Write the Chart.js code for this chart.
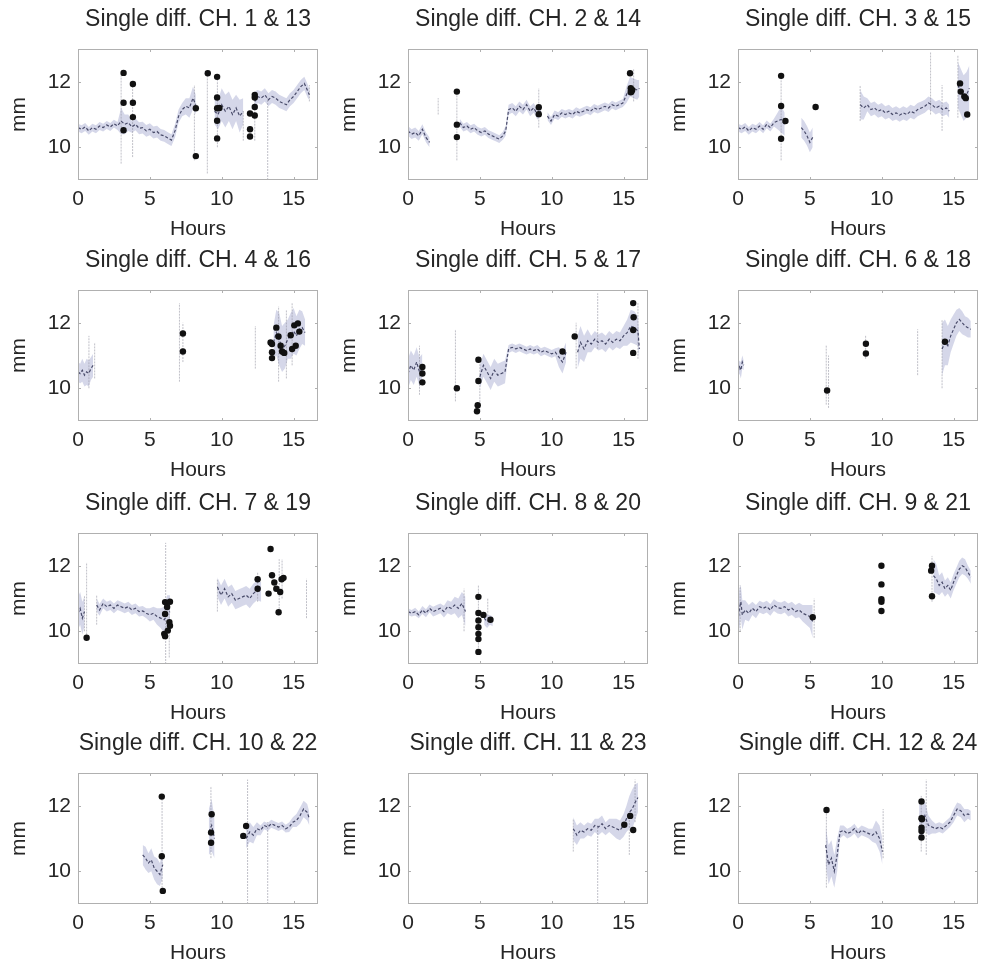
<!DOCTYPE html>
<html>
<head>
<meta charset="utf-8">
<script src="https://cdn.jsdelivr.net/npm/chart.js@4/dist/chart.umd.min.js"></script>
<style>
  body { margin: 0; background: #fff; }
  #wrap { position: relative; width: 985px; height: 968px; overflow: hidden; }
  #wrap canvas { position: absolute; }
</style>
</head>
<body>
<div id="wrap"></div>
<script>
// tick labels
const hourTicks = [0, 5, 10, 15]
const mmTicks = [10, 12]
const channels = ["1 & 13", "2 & 14", "3 & 15", "4 & 16", "5 & 17", "6 & 18",
  "7 & 19", "8 & 20", "9 & 21", "10 & 22", "11 & 23", "12 & 24"]

// CH 1 & 13
const hours1 = [0,0.25,0.5,0.75,1,1.25,1.5,1.75,2,2.25,2.5,2.75,3,3.25,3.5,3.75,4,4.25,4.5,4.75,5,5.25,5.5,5.75,6,6.25,6.5,6.75,7,7.25,7.5,7.75,8,8.2,8.8,9.5,9.75,10,10.25,10.5,10.75,11,11.25,11.5,11.9,12.3,12.5,12.75,13,13.25,13.5,13.75,14,14.25,14.5,14.75,15,15.25,15.5,15.75,16,16.1]
const mean1 = [10.6,10.55,10.62,10.5,10.6,10.55,10.65,10.6,10.68,10.62,10.72,10.65,10.8,10.7,10.75,10.62,10.7,10.58,10.6,10.5,10.55,10.45,10.48,10.38,10.35,10.28,10.22,10.5,10.95,11.15,11.25,11.2,11.5,11.3,null,11.1,11.0,11.3,11.1,11.25,11.0,11.2,10.95,11.1,null,11.4,11.55,11.5,11.6,11.45,11.55,11.5,11.4,11.35,11.3,11.45,11.55,11.7,11.85,11.95,11.7,11.6]
const spread1 = [0.12,0.12,0.12,0.12,0.12,0.12,0.12,0.12,0.12,0.12,0.12,0.12,0.4,0.3,0.25,0.18,0.18,0.18,0.18,0.18,0.18,0.18,0.18,0.18,0.18,0.18,0.18,0.2,0.2,0.2,0.25,0.3,0.35,0.3,null,0.4,0.45,0.5,0.5,0.45,0.45,0.4,0.5,0.4,null,0.3,0.2,0.2,0.2,0.2,0.2,0.2,0.2,0.2,0.2,0.2,0.2,0.2,0.2,0.2,0.2,0.15]
const spikeX1 = [3.0,3.8,8.1,9.0,9.7,11.5,12.3,13.2,16.1]
const spikeLo1 = [9.5,9.7,9.6,9.2,10.0,10.2,10.2,9.0,11.4]
const spikeHi1 = [12.2,11.9,11.9,12.2,12.1,11.1,11.6,11.5,11.9]
const dotX1 = [3.17,3.17,3.17,3.82,3.82,3.82,8.2,8.2,9.03,9.68,9.68,9.68,9.68,9.68,9.84,11.97,11.97,11.97,12.3,12.3,12.3,12.3]
const dotY1 = [12.27,11.36,10.52,11.93,11.36,10.92,11.19,9.73,12.26,12.15,11.52,11.19,10.81,10.27,11.2,11.03,10.55,10.33,11.6,11.52,11.23,10.97]

// CH 2 & 14
const hours2 = [0,0.25,0.5,0.75,1,1.25,1.5,2.5,3.6,3.85,4.1,4.35,4.6,4.85,5.1,5.35,5.6,5.85,6.1,6.35,6.6,6.8,7,7.25,7.5,7.75,8,8.25,8.5,8.75,9,9.25,9.45,9.7,9.95,10.2,10.45,10.7,10.95,11.2,11.45,11.7,11.95,12.2,12.45,12.7,12.95,13.2,13.45,13.7,13.95,14.2,14.45,14.7,14.95,15.2,15.45,15.7,15.95,16.1]
const mean2 = [10.5,10.4,10.45,10.35,10.55,10.3,10.15,null,10.75,10.6,10.65,10.55,10.6,10.5,10.45,10.5,10.4,10.35,10.3,10.25,10.35,10.5,11.15,11.2,11.1,11.25,11.15,11.3,11.1,11.2,11.0,11.1,null,10.95,10.8,11.0,10.95,11.05,11.0,11.05,11.0,11.1,11.05,11.1,11.15,11.1,11.2,11.15,11.2,11.25,11.2,11.3,11.25,11.3,11.35,11.6,11.85,11.8,11.75,11.8]
const spread2 = [0.15,0.15,0.15,0.15,0.15,0.15,0.15,null,0.12,0.12,0.12,0.12,0.12,0.12,0.12,0.12,0.12,0.12,0.12,0.12,0.12,0.15,0.15,0.15,0.15,0.15,0.15,0.15,0.15,0.15,0.15,0.15,null,0.12,0.12,0.12,0.12,0.12,0.12,0.12,0.12,0.12,0.12,0.12,0.12,0.12,0.12,0.12,0.12,0.12,0.12,0.12,0.12,0.12,0.12,0.25,0.3,0.3,0.3,0.25]
const spikeX2 = [2.1,3.4,9.1,15.7]
const spikeLo2 = [11.0,9.6,10.6,11.4]
const spikeHi2 = [11.5,11.7,11.8,12.4]
const dotX2 = [3.4,3.4,3.4,9.1,9.1,15.45,15.5,15.55,15.6,15.5]
const dotY2 = [11.7,10.69,10.31,11.22,11.01,12.26,11.8,11.7,11.75,11.68]

// CH 3 & 15
const hours3 = [0,0.25,0.5,0.75,1,1.25,1.5,1.75,2,2.25,2.5,2.75,3,3.25,3.8,4.4,4.6,4.8,5,5.2,6.8,8.5,8.75,9,9.25,9.5,9.75,10,10.25,10.5,10.75,11,11.25,11.5,11.75,12,12.25,12.5,12.75,13,13.25,13.5,13.75,14,14.25,14.5,14.7,15,15.3,15.5,15.7,15.9,16.1]
const mean3 = [10.6,10.55,10.62,10.5,10.6,10.55,10.65,10.55,10.7,10.6,10.75,10.8,10.85,10.7,null,10.6,10.5,10.35,10.15,10.3,null,11.3,11.2,11.3,11.15,11.2,11.1,11.15,11.05,11.1,11.0,11.05,10.98,11.05,11.0,11.1,11.05,11.15,11.2,11.25,11.35,11.3,11.2,11.25,11.15,11.2,11.1,null,11.9,11.7,11.5,11.6,11.8]
const spread3 = [0.12,0.12,0.12,0.12,0.12,0.12,0.12,0.12,0.12,0.12,0.12,0.25,0.4,0.35,null,0.3,0.3,0.3,0.3,0.3,null,0.45,0.35,0.2,0.2,0.2,0.2,0.2,0.2,0.2,0.2,0.2,0.2,0.2,0.2,0.2,0.2,0.2,0.2,0.2,0.2,0.2,0.2,0.2,0.2,0.2,0.2,null,0.7,0.7,0.7,0.7,0.7]
const spikeX3 = [3.0,8.5,13.4,14.2,15.3]
const spikeLo3 = [9.6,10.8,11.0,10.5,10.9]
const spikeHi3 = [12.2,11.9,12.9,11.9,12.8]
const dotX3 = [3.0,3.0,3.0,3.3,5.4,15.45,15.5,15.75,15.85,15.95]
const dotY3 = [12.18,11.26,10.26,10.8,11.23,11.95,11.7,11.55,11.5,11.0]

// CH 4 & 16
const hours4 = [0,0.15,0.3,0.45,0.6,0.75,0.9,1.05,1.2,13.6,13.8,14,14.2,14.4,14.6,14.8,15,15.2,15.4,15.6,15.8]
const mean4 = [10.5,10.45,10.55,10.4,10.5,10.45,10.6,10.7,null,11.4,11.7,11.5,11.2,11.3,11.5,11.6,11.75,11.6,11.8,11.85,11.7]
const spread4 = [0.3,0.3,0.35,0.35,0.4,0.4,0.35,0.35,null,0.5,0.7,0.8,0.7,0.7,0.6,0.7,0.7,0.6,0.6,0.5,0.4]
const spikeX4 = [0.76,1.16,7.06,7.3,12.34,13.96,14.5,14.9]
const spikeLo4 = [10.0,10.3,10.2,10.8,10.6,10.2,10.3,10.7]
const spikeHi4 = [11.6,11.4,12.6,12.0,11.9,12.5,12.4,12.6]
const dotX4 = [7.3,7.3,13.4,13.5,13.5,13.5,13.8,13.95,14.1,14.2,14.35,14.8,14.9,15.05,15.15,15.3,15.4]
const dotY4 = [11.67,11.12,11.4,11.35,11.1,10.92,11.85,11.58,11.3,11.12,11.08,11.62,11.2,11.92,11.3,11.98,11.73]

// CH 5 & 17
const hours5 = [0,0.2,0.4,0.6,0.8,1,2,5,5.25,5.5,5.75,6,6.25,6.5,6.75,7,7.25,7.5,7.75,8,8.25,8.5,8.75,9,9.25,9.5,9.75,10,10.25,10.5,10.75,11,11.4,11.8,12,12.25,12.5,12.75,13,13.25,13.5,13.75,14,14.25,14.5,14.75,15,15.25,15.5,15.75,16,16.1]
const mean5 = [10.45,10.7,10.55,10.8,10.5,10.6,null,10.35,10.7,10.5,10.3,10.55,10.4,10.45,10.5,11.2,11.25,11.2,11.25,11.2,11.15,11.2,11.15,11.2,11.1,11.15,11.1,11.05,11.1,10.95,10.8,11.1,null,11.1,11.4,11.2,11.45,11.35,11.5,11.4,11.45,11.35,11.5,11.4,11.5,11.45,11.6,11.7,11.9,11.85,11.75,11.2]
const spread5 = [0.45,0.45,0.45,0.45,0.45,0.45,null,0.35,0.35,0.35,0.35,0.35,0.35,0.35,0.35,0.12,0.12,0.12,0.12,0.12,0.12,0.12,0.12,0.12,0.12,0.12,0.12,0.12,0.12,0.3,0.35,0.3,null,0.5,0.5,0.4,0.35,0.25,0.25,0.25,0.25,0.25,0.25,0.25,0.25,0.25,0.3,0.4,0.5,0.5,0.45,0.4]
const spikeX5 = [0.8,3.3,5.0,11.7,13.2,16.0]
const spikeLo5 = [9.8,9.6,9.3,10.6,11.2,10.9]
const spikeHi5 = [11.3,11.8,10.9,12.0,12.9,12.6]
const dotX5 = [1.0,1.0,1.0,3.4,4.9,4.9,4.85,4.8,10.75,11.6,15.67,15.7,15.67,15.67]
const dotY5 = [10.65,10.45,10.18,10.0,10.87,10.22,9.48,9.3,11.12,11.58,12.6,12.17,11.78,11.08]

// CH 6 & 18
const hours6 = [0,0.1,0.2,0.3,0.4,7,14.2,14.4,14.6,14.8,15,15.2,15.4,15.6,15.8,16,16.2]
const mean6 = [10.5,10.65,10.55,10.8,10.7,null,11.2,11.4,11.3,11.6,11.8,12.0,12.1,12.0,11.9,11.85,11.8]
const spread6 = [0.2,0.2,0.25,0.2,0.15,null,0.8,0.7,0.6,0.5,0.45,0.4,0.35,0.35,0.3,0.3,0.25]
const spikeX6 = [6.14,6.3,8.88,12.5,14.2]
const spikeLo6 = [9.5,9.4,10.9,10.4,10.0]
const spikeHi6 = [11.3,11.0,11.6,11.8,12.1]
const dotX6 = [6.2,8.9,8.9,14.4]
const dotY6 = [9.93,11.36,11.06,11.42]

// CH 7 & 19
const hours7 = [0,0.15,0.3,0.45,0.9,1.3,1.5,1.75,2,2.25,2.5,2.75,3,3.25,3.5,3.75,4,4.25,4.5,4.75,5,5.25,5.5,5.75,6,6.2,6.4,8,9.7,9.95,10.2,10.45,10.7,10.95,11.2,11.45,11.7,11.95,12.2,12.45,12.75]
const mean7 = [10.55,10.7,10.4,10.6,null,10.8,10.65,10.85,10.75,10.8,10.7,10.8,10.75,10.7,10.75,10.65,10.7,10.6,10.62,10.55,10.5,10.55,10.45,10.4,10.35,10.5,10.6,null,11.35,11.1,11.3,11.05,11.15,10.95,11.0,11.05,11.1,11.0,11.15,11.25,11.2]
const spread7 = [0.5,0.5,0.5,0.45,null,0.2,0.18,0.15,0.15,0.15,0.15,0.15,0.15,0.15,0.15,0.15,0.15,0.15,0.15,0.15,0.2,0.2,0.25,0.3,0.4,0.6,0.5,null,0.3,0.3,0.3,0.3,0.28,0.28,0.28,0.28,0.28,0.3,0.3,0.3,0.3]
const spikeX7 = [0.45,0.6,1.3,6.1,6.35,9.7,12.5,14.0,14.2,15.9]
const spikeLo7 = [10.0,9.9,10.2,9.0,9.2,10.6,10.9,10.5,11.0,10.4]
const spikeHi7 = [11.1,12.1,11.1,12.7,11.0,11.6,11.8,12.2,12.2,11.6]
const dotX7 = [0.6,6.06,6.2,6.06,6.0,6.06,6.36,6.4,6.25,6.4,12.5,12.5,13.26,13.4,13.5,13.66,13.8,13.96,14.07,14.17,14.3]
const dotY7 = [9.8,10.89,10.74,10.53,9.92,9.85,10.28,10.17,10.02,10.9,11.59,11.3,11.15,12.51,11.71,11.49,11.3,10.58,11.2,11.59,11.63]

// CH 8 & 20
const hours8 = [0,0.25,0.5,0.75,1,1.25,1.5,1.75,2,2.25,2.5,2.75,3,3.25,3.5,3.75,4,4.6,5.3,5.5,5.7,5.9]
const mean8 = [10.6,10.55,10.6,10.5,10.65,10.55,10.7,10.6,10.65,10.7,10.6,10.75,10.7,10.8,10.7,10.85,10.6,null,10.4,10.3,10.35,10.3]
const spread8 = [0.1,0.1,0.12,0.1,0.12,0.12,0.12,0.15,0.15,0.15,0.18,0.2,0.2,0.25,0.3,0.35,0.45,null,0.2,0.2,0.15,0.15]
const spikeX8 = [3.9,4.9,5.55]
const spikeLo8 = [10.0,9.5,10.2]
const spikeHi8 = [11.3,11.4,11.0]
const dotX8 = [4.9,4.9,4.9,4.9,4.9,4.9,4.9,5.25,5.74]
const dotY8 = [11.05,10.56,10.33,10.12,9.92,9.76,9.37,10.5,10.35]

// CH 9 & 21
const hours9 = [0,0.1,0.2,0.3,0.5,0.75,1,1.25,1.5,1.75,2,2.25,2.5,2.75,3,3.25,3.5,3.75,4,4.25,4.5,4.75,5,5.2,9,13.6,13.8,14,14.2,14.4,14.6,14.8,15,15.2,15.4,15.6,15.8,16,16.2]
const mean9 = [10.3,10.7,10.9,10.5,10.65,10.55,10.7,10.6,10.75,10.7,10.75,10.65,10.8,10.72,10.7,10.75,10.65,10.7,10.6,10.65,10.55,10.5,10.45,10.3,null,11.7,11.6,11.4,11.5,11.3,11.4,11.25,11.5,11.7,11.9,12.0,11.95,11.8,11.65]
const spread9 = [0.4,0.6,0.5,0.45,0.3,0.25,0.2,0.2,0.18,0.18,0.18,0.18,0.18,0.18,0.18,0.18,0.2,0.2,0.2,0.22,0.25,0.3,0.35,0.5,null,0.5,0.45,0.3,0.3,0.25,0.25,0.25,0.25,0.25,0.25,0.25,0.25,0.2,0.2]
const spikeX9 = [0.15,5.3,13.5]
const spikeLo9 = [10.0,9.8,10.9]
const spikeHi9 = [11.4,11.0,12.3]
const dotX9 = [5.2,9.98,9.98,9.98,9.98,9.98,13.44,13.5,13.5]
const dotY9 = [10.43,12.0,11.43,10.98,10.9,10.62,11.85,12.0,11.07]

// CH 10 & 22
const hours10 = [4.5,4.7,4.9,5.1,5.3,5.5,5.7,5.9,8,9.1,9.3,9.5,10.5,11.7,11.95,12.2,12.45,12.7,12.95,13.2,13.45,13.7,13.95,14.2,14.45,14.7,14.95,15.2,15.45,15.7,15.95,16.1]
const mean10 = [10.5,10.4,10.25,10.35,10.1,10.0,9.9,10.2,null,11.2,11.4,11.0,null,11.0,11.2,11.1,11.3,11.25,11.4,11.35,11.45,11.4,11.35,11.4,11.3,11.35,11.5,11.55,11.7,11.9,11.8,11.6]
const spread10 = [0.3,0.35,0.3,0.35,0.35,0.4,0.35,0.4,null,0.7,0.8,0.6,null,0.3,0.3,0.25,0.2,0.15,0.12,0.12,0.12,0.12,0.12,0.12,0.12,0.15,0.15,0.2,0.25,0.25,0.25,0.2]
const spikeX10 = [5.85,9.25,11.8,13.2]
const spikeLo10 = [9.4,10.4,9.0,9.0]
const spikeHi10 = [12.2,12.6,12.8,11.5]
const dotX10 = [5.83,5.83,5.9,9.3,9.26,9.26,11.5,11.7]
const dotY10 = [12.28,10.46,9.4,11.74,11.18,10.87,11.08,11.38]

// CH 11 & 23
const hours11 = [11.5,11.75,12,12.25,12.5,12.75,13,13.25,13.5,13.75,14,14.25,14.5,14.75,15,15.2,15.4,15.6,15.8,16]
const mean11 = [11.3,11.1,11.25,11.2,11.3,11.25,11.4,11.35,11.45,11.3,11.4,11.35,11.3,11.25,11.4,11.6,11.8,11.9,12.1,12.25]
const spread11 = [0.35,0.3,0.25,0.2,0.2,0.2,0.2,0.25,0.25,0.2,0.2,0.25,0.3,0.3,0.35,0.4,0.5,0.6,0.55,0.45]
const spikeX11 = [11.5,13.2,15.4,15.8]
const spikeLo11 = [10.6,9.0,10.5,11.5]
const spikeHi11 = [11.6,11.4,11.8,12.8]
const dotX11 = [15.05,15.46,15.67]
const dotY11 = [11.42,11.69,11.26]

// CH 12 & 24
const hours12 = [6.1,6.3,6.5,6.7,6.9,7.1,7.35,7.6,7.85,8.1,8.35,8.6,8.85,9.1,9.35,9.6,9.85,10.05,11,12.6,12.8,13,13.25,13.5,13.75,14,14.25,14.5,14.75,15,15.25,15.5,15.75,16,16.2]
const mean12 = [10.8,10.2,10.4,10.0,10.5,11.2,11.25,11.15,11.2,11.3,11.15,11.25,11.2,11.15,11.1,11.2,11.0,10.6,null,11.6,11.5,11.7,11.4,11.35,11.3,11.35,11.3,11.4,11.5,11.7,11.9,11.85,11.7,11.75,11.7]
const spread12 = [0.6,0.6,0.55,0.5,0.5,0.2,0.15,0.15,0.15,0.15,0.15,0.15,0.15,0.15,0.2,0.35,0.4,0.4,null,0.5,0.5,0.45,0.3,0.2,0.15,0.15,0.15,0.15,0.15,0.2,0.2,0.2,0.2,0.15,0.15]
const spikeX12 = [6.15,10.1,12.75,13.1]
const spikeLo12 = [9.5,10.4,10.6,10.5]
const spikeHi12 = [11.9,11.9,12.3,12.8]
const dotX12 = [6.16,12.77,12.77,12.8,12.77,12.77,12.77]
const dotY12 = [11.87,12.13,11.62,11.59,11.33,11.23,11.03]

const panels = [
  [hours1, mean1, spread1, spikeX1, spikeLo1, spikeHi1, dotX1, dotY1],
  [hours2, mean2, spread2, spikeX2, spikeLo2, spikeHi2, dotX2, dotY2],
  [hours3, mean3, spread3, spikeX3, spikeLo3, spikeHi3, dotX3, dotY3],
  [hours4, mean4, spread4, spikeX4, spikeLo4, spikeHi4, dotX4, dotY4],
  [hours5, mean5, spread5, spikeX5, spikeLo5, spikeHi5, dotX5, dotY5],
  [hours6, mean6, spread6, spikeX6, spikeLo6, spikeHi6, dotX6, dotY6],
  [hours7, mean7, spread7, spikeX7, spikeLo7, spikeHi7, dotX7, dotY7],
  [hours8, mean8, spread8, spikeX8, spikeLo8, spikeHi8, dotX8, dotY8],
  [hours9, mean9, spread9, spikeX9, spikeLo9, spikeHi9, dotX9, dotY9],
  [hours10, mean10, spread10, spikeX10, spikeLo10, spikeHi10, dotX10, dotY10],
  [hours11, mean11, spread11, spikeX11, spikeLo11, spikeHi11, dotX11, dotY11],
  [hours12, mean12, spread12, spikeX12, spikeLo12, spikeHi12, dotX12, dotY12],
]

const TEXT = "#262626"
const FONT = { family: "'Liberation Sans', Arial, sans-serif", size: 21 }

// box round the plot area with small inward ticks, like the original axes
const framePlugin = {
  id: "frame",
  afterDatasetsDraw(chart) {
    const { ctx, chartArea: a, scales } = chart
    ctx.save()
    ctx.strokeStyle = "#b0b0b0"
    ctx.lineWidth = 1
    ctx.strokeRect(a.left + 0.5, a.top + 0.5, a.width - 1, a.height - 1)
    ctx.beginPath()
    hourTicks.forEach((v) => {
      const px = Math.round(scales.x.getPixelForValue(v)) + 0.5
      ctx.moveTo(px, a.bottom); ctx.lineTo(px, a.bottom - 3)
      ctx.moveTo(px, a.top); ctx.lineTo(px, a.top + 3)
    })
    mmTicks.forEach((v) => {
      const py = Math.round(scales.y.getPixelForValue(v)) + 0.5
      ctx.moveTo(a.left, py); ctx.lineTo(a.left + 3, py)
      ctx.moveTo(a.right, py); ctx.lineTo(a.right - 3, py)
    })
    ctx.stroke()
    ctx.restore()
  },
}

function makeChart(idx) {
  const [hours, mean, spread, spikeX, spikeLo, spikeHi, dotX, dotY] = panels[idx]
  const col = idx % 3
  const row = Math.floor(idx / 3)

  // canvas is symmetric round the plot so the title centres over it
  const canvas = document.createElement("canvas")
  canvas.width = 396
  canvas.height = 242
  canvas.style.left = [0, 330, 660][col] + "px"
  canvas.style.top = [0, 241, 484, 724][row] + "px"
  document.getElementById("wrap").appendChild(canvas)

  const upper = hours.map((h, i) => ({ x: h, y: mean[i] == null ? null : mean[i] + spread[i] }))
  const lower = hours.map((h, i) => ({ x: h, y: mean[i] == null ? null : mean[i] - spread[i] }))
  const line = hours.map((h, i) => ({ x: h, y: mean[i] }))
  const spikes = spikeX.flatMap((x, i) => [{ x, y: spikeLo[i] }, { x, y: spikeHi[i] }, { x, y: null }])
  const dots = dotX.map((x, i) => ({ x, y: dotY[i] }))

  return new Chart(canvas, {
    type: "line",
    data: {
      datasets: [
        {
          data: upper,
          order: 4,
          borderWidth: 0,
          borderColor: "rgba(0,0,0,0)",
          backgroundColor: "rgba(178, 183, 215, 0.55)",
          fill: "+1",
          pointRadius: 0,
          spanGaps: false,
        },
        {
          data: lower,
          order: 4,
          borderWidth: 0,
          borderColor: "rgba(0,0,0,0)",
          fill: false,
          pointRadius: 0,
          spanGaps: false,
        },
        {
          data: spikes,
          order: 3,
          borderColor: "rgba(140, 140, 155, 0.55)",
          borderWidth: 1,
          borderDash: [2, 1],
          pointRadius: 0,
          spanGaps: false,
        },
        {
          data: line,
          order: 2,
          borderColor: "rgba(58, 60, 92, 0.9)",
          borderWidth: 1.2,
          borderDash: [3, 2],
          pointRadius: 0,
          fill: false,
          spanGaps: false,
        },
        {
          data: dots,
          order: 1,
          showLine: false,
          pointRadius: 3.2,
          pointBackgroundColor: "#111",
          pointBorderColor: "#111",
          pointBorderWidth: 0,
        },
      ],
    },
    options: {
      responsive: false,
      animation: false,
      plugins: {
        legend: { display: false },
        tooltip: { enabled: false },
        title: {
          display: true,
          text: "Single diff. CH. " + channels[idx],
          color: TEXT,
          font: { family: FONT.family, size: 23, weight: "normal" },
          padding: { top: 6, bottom: 15.4 },
        },
      },
      scales: {
        x: {
          type: "linear",
          min: 0,
          max: 16.7,
          grid: { display: false, drawTicks: false },
          border: { display: false },
          afterBuildTicks: (s) => { s.ticks = hourTicks.map((v) => ({ value: v })) },
          afterFit: (s) => { s.height = 62 },
          ticks: { color: TEXT, font: FONT, padding: 7, maxRotation: 0 },
          title: { display: true, text: "Hours", color: TEXT, font: FONT, padding: 0 },
        },
        y: {
          min: 9,
          max: 13,
          grid: { display: false, drawTicks: false },
          border: { display: false },
          afterBuildTicks: (s) => { s.ticks = mmTicks.map((v) => ({ value: v })) },
          afterFit: (s) => { s.width = 78 },
          ticks: { color: TEXT, font: FONT, padding: 7 },
          title: { display: true, text: "mm", color: TEXT, font: FONT, padding: { top: 7, bottom: 0 } },
        },
        // empty right-hand axis, same width as the left one, keeps the title centred on the plot
        yRight: {
          position: "right",
          min: 9,
          max: 13,
          grid: { display: false, drawTicks: false },
          border: { display: false },
          ticks: { display: false },
          afterFit: (s) => { s.width = 78 },
        },
      },
    },
    plugins: [framePlugin],
  })
}

panels.forEach((p, i) => makeChart(i))
</script>
</body>
</html>
